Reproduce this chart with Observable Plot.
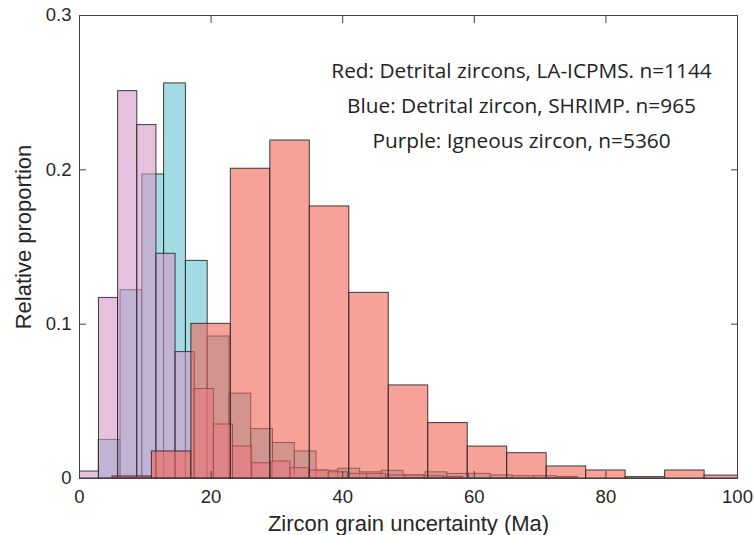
<!DOCTYPE html>
<html>
<head>
<meta charset="utf-8">
<script src="https://cdn.jsdelivr.net/npm/d3@7"></script>
<script src="https://cdn.jsdelivr.net/npm/@observablehq/plot@0.6"></script>
<style>
  html, body { margin: 0; padding: 0; background: #fff; }
  #chart { width: 754px; height: 535px; }
</style>
</head>
<body>
<div id="chart"></div>
<script>
// Histogram of zircon grain age uncertainty, as relative proportion per bin.
// Detrital zircons, LA-ICPMS (n = 1144): 6 Ma bins starting at 5 Ma
const redBinStart = 5;
const redBinWidth = 6;
const redValues = [0.0013, 0.0175, 0.1002, 0.2007, 0.219, 0.1763, 0.1203, 0.0603,
  0.0359, 0.0207, 0.0164, 0.0078, 0.0052, 0.0009, 0.0052, 0.0019];

// Detrital zircon, SHRIMP (n = 965)
const blueBinStart = 2.93;
const blueBinWidth = 3.31;
const blueValues = [0.025, 0.122, 0.197, 0.256, 0.141, 0.092, 0.055, 0.032, 0.023, 0.0175,
  0.005, 0.0063, 0.004, 0.005, 0.002, 0.004, 0.003, 0.003, 0.002, 0.0015, 0.0015, 0.001];

// Igneous zircon (n = 5360)
const purpleBinStart = 0.05;
const purpleBinWidth = 2.91;
const purpleValues = [0.0045, 0.117, 0.251, 0.229, 0.1456, 0.0819, 0.058, 0.035, 0.0207,
  0.0099, 0.011, 0.0067, 0.0052, 0.004, 0.003, 0.003, 0.002, 0.002, 0.0015, 0.001];

const xTicks = [0, 20, 40, 60, 80, 100];
const yTicks = [0, 0.1, 0.2, 0.3];
const legendLines = [
  "Red: Detrital zircons, LA-ICPMS. n=1144",
  "Blue: Detrital zircon, SHRIMP. n=965",
  "Purple: Igneous zircon, n=5360"
];
const xLabel = "Zircon grain uncertainty (Ma)";
const yLabel = "Relative proportion";

// Turn a bin start, bin width and per-bin proportions into rectangles
function bins(start, width, values) {
  return values.map((v, i) => ({x1: start + i * width, x2: start + (i + 1) * width, y: v}));
}

const edge = {stroke: "#2a2a2a", strokeWidth: 1, strokeOpacity: 0.9, clip: true};

const chart = Plot.plot({
  width: 754,
  height: 535,
  marginLeft: 79,
  marginRight: 17,
  marginTop: 15,
  marginBottom: 57,
  x: {domain: [0, 100], axis: null},
  y: {domain: [0, 0.3], axis: null},
  style: {fontFamily: "'Liberation Sans', Arial, sans-serif", color: "#262626", background: "#fff"},
  marks: [
    Plot.rectY(bins(blueBinStart, blueBinWidth, blueValues),
      {x1: "x1", x2: "x2", y: "y", fill: "#67C5D4", fillOpacity: 0.6, ...edge}),
    Plot.rectY(bins(purpleBinStart, purpleBinWidth, purpleValues),
      {x1: "x1", x2: "x2", y: "y", fill: "#D498C8", fillOpacity: 0.6, ...edge}),
    Plot.rectY(bins(redBinStart, redBinWidth, redValues),
      {x1: "x1", x2: "x2", y: "y", fill: "#F26455", fillOpacity: 0.6, ...edge}),
    Plot.frame({stroke: "#404040"}),
    Plot.axisX({ticks: xTicks, anchor: "bottom", tickSize: -7, tickPadding: 18, fontSize: 18.5,
      label: null, tickFormat: d => String(d), stroke: "#404040"}),
    Plot.axisX({ticks: xTicks, anchor: "top", tickSize: -7, tickFormat: () => "", label: null, stroke: "#404040"}),
    Plot.axisY({ticks: yTicks, anchor: "left", tickSize: -7, tickPadding: 15, fontSize: 18.5,
      label: null, tickFormat: d => (d === 0 ? "0" : d.toFixed(1)), stroke: "#404040"}),
    Plot.axisY({ticks: yTicks, anchor: "right", tickSize: -7, tickFormat: () => "", label: null, stroke: "#404040"}),
    Plot.text([xLabel], {text: d => d, frameAnchor: "bottom", dy: 45, fontSize: 22, lineAnchor: "middle"}),
    Plot.text([yLabel], {text: d => d, frameAnchor: "left", textAnchor: "middle", dx: -56, dy: -10,
      rotate: -90, fontSize: 22}),
    Plot.text([legendLines.join("\n")], {text: d => d, frameAnchor: "top", dx: 113, dy: 38,
      lineAnchor: "top", lineHeight: 1.67, fontSize: 20.8, fontFamily: "'Open Sans', sans-serif", fill: "#222"})
  ]
});

document.getElementById("chart").appendChild(chart);
</script>
</body>
</html>
